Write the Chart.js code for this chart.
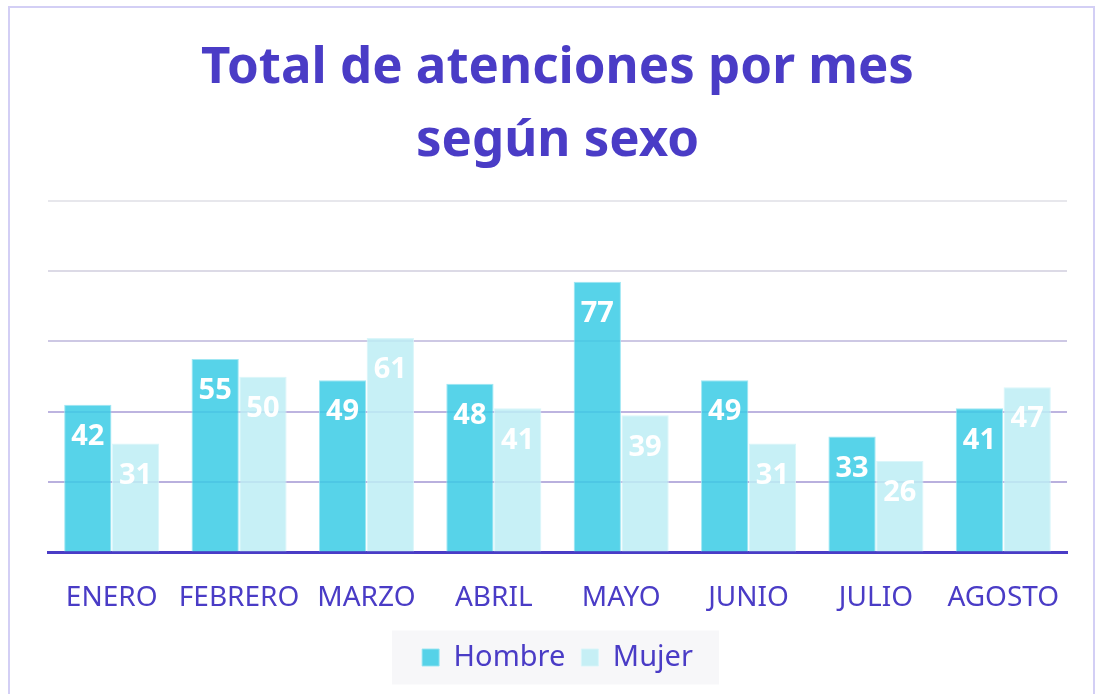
<!DOCTYPE html>
<html>
<head>
<meta charset="utf-8">
<script src="https://cdn.jsdelivr.net/npm/chart.js@4/dist/chart.umd.min.js"></script>
<style>
    html, body { margin: 0; padding: 0; background: #ffffff; overflow: hidden; }
    .frame {
        position: absolute; left: 8px; top: 6px; width: 1087px; height: 720px;
        border: 2px solid #d3cff5; box-sizing: border-box;
    }
    .wrap { position: absolute; left: 0; top: 0; width: 1109px; height: 694px; }
</style>
</head>
<body>
<div class="frame"></div>
<div class="wrap"><canvas id="chart" width="1109" height="694"></canvas></div>
<script>
const months = ['ENERO', 'FEBRERO', 'MARZO', 'ABRIL', 'MAYO', 'JUNIO', 'JULIO', 'AGOSTO'];
const hombre = [42, 55, 49, 48, 77, 49, 33, 41];
const mujer = [31, 50, 61, 41, 39, 31, 26, 47];
const yTicks = [0, 20, 40, 60, 80, 100];

const indigo = '#4a3cc6';

// grid lines get lighter toward the top
const gridColors = { 20: '#b9b0de', 40: '#bdb4e0', 60: '#cdc8e4', 80: '#dcdae6', 100: '#e7e7ec' };

// white value labels inside the top of each bar
const barLabels = {
    id: 'barLabels',
    afterDatasetsDraw(chart) {
        const ctx = chart.ctx;
        ctx.save();
        ctx.fillStyle = '#ffffff';
        ctx.font = 'bold 29px "Noto Sans"';
        ctx.textAlign = 'center';
        ctx.textBaseline = 'middle';
        chart.data.datasets.forEach((ds, i) => {
            chart.getDatasetMeta(i).data.forEach((bar, j) => {
                ctx.fillText(ds.data[j], bar.x, bar.y + 32);
            });
        });
        ctx.restore();
    }
};

// light grey box behind the legend
const legendBox = {
    id: 'legendBox',
    beforeDraw(chart) {
        const lg = chart.legend;
        if (!lg || !lg.legendHitBoxes.length) return;
        const boxes = lg.legendHitBoxes;
        const left = boxes[0].left - 30;
        const last = boxes[boxes.length - 1];
        const right = last.left + last.width + 26;
        const mid = boxes[0].top + boxes[0].height / 2;
        const ctx = chart.ctx;
        ctx.save();
        ctx.fillStyle = '#f7f7f9';
        ctx.fillRect(left, mid - 27, right - left, 54);
        ctx.restore();
    }
};

new Chart(document.getElementById('chart'), {
    type: 'bar',
    data: {
        labels: months,
        datasets: [{
            label: 'Hombre',
            data: hombre,
            backgroundColor: 'rgba(57, 203, 229, 0.85)',
            borderColor: 'rgba(150, 228, 242, 0.9)',
            borderWidth: 1
        }, {
            label: 'Mujer',
            data: mujer,
            backgroundColor: 'rgba(189, 237, 244, 0.85)',
            borderColor: 'rgba(215, 245, 250, 0.9)',
            borderWidth: 1
        }]
    },
    options: {
        responsive: false,
        animation: false,
        layout: { padding: { left: 48, right: 42, top: 0, bottom: 12 } },
        datasets: { bar: { categoryPercentage: 0.75, barPercentage: 0.99 } },
        scales: {
            x: {
                grid: { display: false },
                border: { color: indigo, width: 3 },
                ticks: { color: indigo, font: { family: 'Noto Sans', size: 28 }, padding: 21 },
                afterFit: (axis) => { axis.height -= 9; }
            },
            y: {
                min: 0,
                max: 100,
                afterBuildTicks: (axis) => { axis.ticks = yTicks.map(v => ({ value: v })); },
                ticks: { display: false },
                border: { display: false },
                grid: {
                    color: (c) => gridColors[c.tick.value] || 'rgba(0,0,0,0)',
                    lineWidth: 2,
                    drawTicks: false
                }
            }
        },
        plugins: {
            title: {
                display: true,
                text: ['Total de atenciones por mes', 'según sexo'],
                color: indigo,
                font: { family: 'Noto Sans', size: 51, weight: 'bold', lineHeight: 1.43 },
                padding: { top: 32, bottom: 23 }
            },
            legend: {
                position: 'bottom',
                labels: {
                    color: indigo,
                    font: { family: 'Noto Sans', size: 29 },
                    boxWidth: 17,
                    boxHeight: 17,
                    padding: 16
                }
            },
            tooltip: { enabled: false }
        }
    },
    plugins: [barLabels, legendBox]
});
</script>
</body>
</html>
